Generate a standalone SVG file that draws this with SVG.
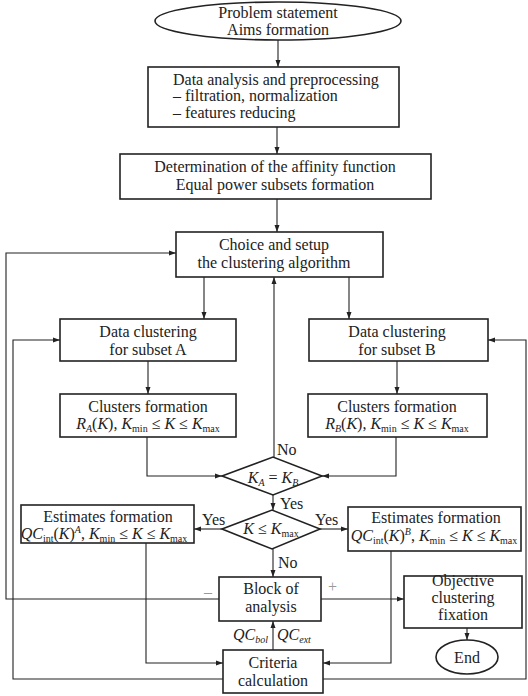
<svg xmlns="http://www.w3.org/2000/svg" width="528" height="696" viewBox="0 0 528 696">
<style>
.b{fill:#fff;stroke:#222;stroke-width:1.6}
.c{fill:none;stroke:#222;stroke-width:1.1}
text{font-family:"Liberation Serif","Times New Roman",serif;font-size:16px;fill:#222}
.m{text-anchor:middle}
.i{font-style:italic}
.s{font-size:10px}
.g{fill:#999}
</style>
<defs>
<marker id="ah" markerUnits="userSpaceOnUse" markerWidth="7" markerHeight="6" refX="7" refY="3" orient="auto">
<path d="M0,0.5 L7,3 L0,5.5 z" fill="#222"/>
</marker>
</defs>
<rect width="528" height="696" fill="#fff"/>
<g id="connectors" class="c" marker-end="url(#ah)">
<path d="M278,40 V67"/>
<path d="M277,127 V154"/>
<path d="M277,199 V232"/>
<path d="M204,277 V319"/>
<path d="M349,277 V319"/>
<path d="M148,361 V394"/>
<path d="M397,361 V394"/>
<path d="M147,437 V476 H222"/>
<path d="M396,437 V476 H322"/>
<path d="M274,457 V277"/>
<path d="M273,495 V510"/>
<path d="M222,529 H194"/>
<path d="M320,529 H348"/>
<path d="M273,549 V577"/>
<path d="M219,599 H6 V253 H176"/>
<path d="M321,599 H404"/>
<path d="M467,628 V640"/>
<path d="M146,543 V663 H223"/>
<path d="M391,551 V663 H323"/>
<path d="M273,650 V621"/>
<path d="M223,679 H13 V340 H60"/>
<path d="M323,679 H526 V340 H488"/>
</g>
<g id="start">
<ellipse class="b" cx="278" cy="21" rx="123" ry="19"/>
<text class="m" x="278" y="18">Problem statement</text>
<text class="m" x="278" y="35">Aims formation</text>
</g>
<g id="preprocessing">
<rect class="b" x="148" y="67" width="251" height="60"/>
<text x="173" y="85">Data analysis and preprocessing</text>
<text x="173" y="101">– filtration, normalization</text>
<text x="173" y="118">– features reducing</text>
</g>
<g id="affinity">
<rect class="b" x="120" y="154" width="311" height="45"/>
<text class="m" x="275" y="172">Determination of the affinity function</text>
<text class="m" x="275" y="190">Equal power subsets formation</text>
</g>
<g id="choice">
<rect class="b" x="176" y="232" width="207" height="45"/>
<text class="m" x="274" y="250">Choice and setup</text>
<text class="m" x="274" y="268">the clustering algorithm</text>
</g>
<g id="clusteringA">
<rect class="b" x="60" y="319" width="176" height="42"/>
<text class="m" x="148" y="337">Data clustering</text>
<text class="m" x="148" y="355">for subset A</text>
</g>
<g id="clusteringB">
<rect class="b" x="309" y="319" width="179" height="42"/>
<text class="m" x="397" y="337">Data clustering</text>
<text class="m" x="397" y="355">for subset B</text>
</g>
<g id="formationA">
<rect class="b" x="60" y="394" width="176" height="43"/>
<text class="m" x="148" y="412">Clusters formation</text>
<text class="m" x="148" y="429"><tspan class="i">R</tspan><tspan class="i s" dy="3">A</tspan><tspan dy="-3">(</tspan><tspan class="i">K</tspan>), <tspan class="i">K</tspan><tspan class="s" dy="3">min</tspan><tspan dy="-3"> ≤ </tspan><tspan class="i">K</tspan> ≤ <tspan class="i">K</tspan><tspan class="s" dy="3">max</tspan></text>
</g>
<g id="formationB">
<rect class="b" x="308" y="394" width="179" height="43"/>
<text class="m" x="397" y="412">Clusters formation</text>
<text class="m" x="397" y="429"><tspan class="i">R</tspan><tspan class="i s" dy="3">B</tspan><tspan dy="-3">(</tspan><tspan class="i">K</tspan>), <tspan class="i">K</tspan><tspan class="s" dy="3">min</tspan><tspan dy="-3"> ≤ </tspan><tspan class="i">K</tspan> ≤ <tspan class="i">K</tspan><tspan class="s" dy="3">max</tspan></text>
</g>
<g id="decision1">
<polygon class="b" points="222,476 273,457 322,476 273,495"/>
<text class="m" x="273" y="483"><tspan class="i">K</tspan><tspan class="i s" dy="3">A</tspan><tspan dy="-3"> = </tspan><tspan class="i">K</tspan><tspan class="i s" dy="3">B</tspan></text>
<text x="277" y="455">No</text>
<text x="280" y="509">Yes</text>
</g>
<g id="decision2">
<polygon class="b" points="222,529 272,510 320,529 272,549"/>
<text class="m" x="271" y="534"><tspan class="i">K</tspan> ≤ <tspan class="i">K</tspan><tspan class="s" dy="3">max</tspan></text>
<text x="202" y="525">Yes</text>
<text x="315" y="525">Yes</text>
<text x="278" y="568">No</text>
</g>
<g id="estimatesA">
<rect class="b" x="21" y="505" width="173" height="38"/>
<text class="m" x="108" y="522">Estimates formation</text>
<text class="m" x="104" y="539"><tspan class="i">QC</tspan><tspan class="s" dy="3">int</tspan><tspan dy="-3">(</tspan><tspan class="i">K</tspan>)<tspan class="i s" dy="-6">A</tspan><tspan dy="6">, </tspan><tspan class="i">K</tspan><tspan class="s" dy="3">min</tspan><tspan dy="-3"> ≤ </tspan><tspan class="i">K</tspan> ≤ <tspan class="i">K</tspan><tspan class="s" dy="3">max</tspan></text>
</g>
<g id="estimatesB">
<rect class="b" x="348" y="507" width="173" height="44"/>
<text class="m" x="436" y="523">Estimates formation</text>
<text class="m" x="434" y="541"><tspan class="i">QC</tspan><tspan class="s" dy="3">int</tspan><tspan dy="-3">(</tspan><tspan class="i">K</tspan>)<tspan class="i s" dy="-6">B</tspan><tspan dy="6">, </tspan><tspan class="i">K</tspan><tspan class="s" dy="3">min</tspan><tspan dy="-3"> ≤ </tspan><tspan class="i">K</tspan> ≤ <tspan class="i">K</tspan><tspan class="s" dy="3">max</tspan></text>
</g>
<g id="analysis">
<rect class="b" x="219" y="577" width="102" height="44"/>
<text class="m" x="271" y="594">Block of</text>
<text class="m" x="271" y="612">analysis</text>
<text class="g" x="204" y="597">–</text>
<text class="g" x="328" y="592">+</text>
</g>
<g id="objective">
<rect class="b" x="404" y="576" width="118" height="52"/>
<text class="m" x="463" y="586">Objective</text>
<text class="m" x="463" y="603">clustering</text>
<text class="m" x="463" y="620">fixation</text>
</g>
<g id="end">
<ellipse class="b" cx="467" cy="657" rx="31" ry="17"/>
<text class="m" x="467" y="663">End</text>
</g>
<g id="criteria">
<rect class="b" x="223" y="650" width="100" height="43"/>
<text class="m" x="273" y="668">Criteria</text>
<text class="m" x="273" y="686">calculation</text>
<text x="233" y="640"><tspan class="i">QC</tspan><tspan class="i s" dy="3">bol</tspan></text>
<text x="277" y="640"><tspan class="i">QC</tspan><tspan class="i s" dy="3">ext</tspan></text>
</g>
</svg>
